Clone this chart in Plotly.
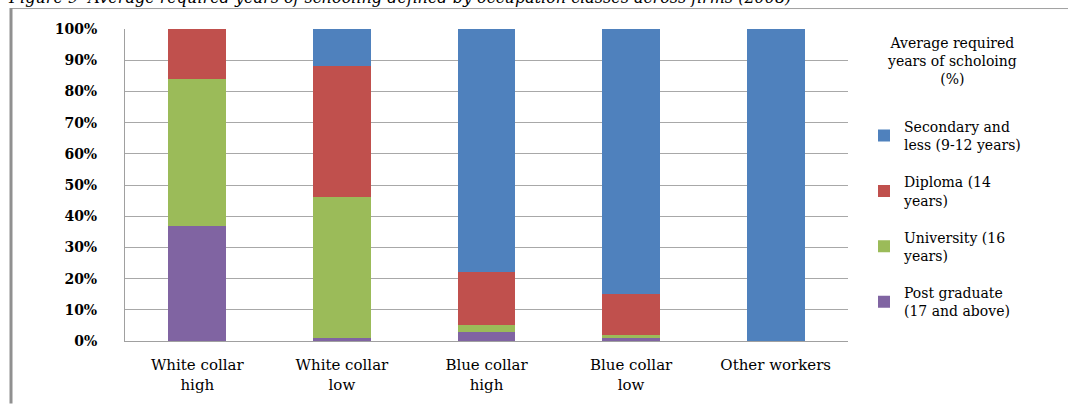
import plotly.graph_objects as go

categories = ["White collar<br>high", "White collar<br>low", "Blue collar<br>high",
              "Blue collar<br>low", "Other workers"]
post_graduate = [37, 1, 3, 1, 0]
university = [47, 45, 2, 1, 0]
diploma = [16, 42, 17, 13, 0]
secondary = [0, 12, 78, 85, 100]

series_names = ["Post graduate<br>(17 and above)", "University (16<br>years)",
                "Diploma (14<br>years)", "Secondary and<br>less (9-12 years)"]
series_values = [post_graduate, university, diploma, secondary]
colors = ["#8064A2", "#9BBB59", "#C0504D", "#4F81BD"]
legend_ranks = [4, 3, 2, 1]

W, H = 1068, 404
L, R, T, B = 125, 848, 29, 341.5

def px(x):
    return (x - L) / (R - L)

def py(y):
    return (B - y) / (B - T)

fig = go.Figure()
for i, (name, vals, col, rk) in enumerate(zip(series_names, series_values, colors, legend_ranks)):
    fig.add_trace(go.Bar(
        x=categories, y=vals, name=name, marker=dict(color=col, line=dict(width=0)),
        legendgroup=f"g{i}", legendrank=rk,
    ))

serif = "DejaVu Serif"
fig.update_layout(
    width=W, height=H,
    barmode="stack", bargap=0.6,
    margin=dict(l=L, r=W - R, t=T, b=H - B, autoexpand=False),
    paper_bgcolor="white", plot_bgcolor="white",
    font=dict(family=serif, color="#000000"),
    showlegend=True,
    legend=dict(
        x=px(864), y=py(111), xanchor="left", yanchor="top",
        traceorder="grouped", tracegroupgap=16,
        font=dict(family=serif, size=14, color="#000000"),
        itemwidth=30, bgcolor="rgba(0,0,0,0)",
    ),
    xaxis=dict(
        showgrid=False, showline=True, linecolor="#A0A0A0", linewidth=1,
        ticks="", tickfont=dict(family=serif, size=15, color="#000000"),
        ticklabelstandoff=10,
    ),
    yaxis=dict(
        range=[0, 100], dtick=10, ticksuffix="%",
        showgrid=True, gridcolor="#A8A8A8", gridwidth=1,
        showline=True, linecolor="#A0A0A0", linewidth=1,
        zeroline=False, ticks="",
        tickfont=dict(family=serif, size=14, color="#000000", weight="bold"),
        ticklabelstandoff=24,
    ),
    annotations=[
        dict(text="Average required<br>years of scholoing<br>(%)", xref="paper", yref="paper",
             x=px(952), y=py(33), xanchor="center", yanchor="top", showarrow=False,
             font=dict(family=serif, size=14, color="#000000"), align="center"),
        dict(text="Figure 9  Average required years of schooling defined by occupation classes across firms (2008)",
             xref="paper", yref="paper", x=px(6), y=py(-3), xanchor="left", yanchor="middle",
             showarrow=False, font=dict(family=serif, size=16, color="#000000", style="italic")),
    ],
    shapes=[
        dict(type="line", xref="paper", yref="paper", x0=px(11), x1=px(1068), y0=py(8.5), y1=py(8.5),
             line=dict(color="#A0A0A0", width=1)),
        dict(type="line", xref="paper", yref="paper", x0=px(11), x1=px(11), y0=py(8), y1=py(404),
             line=dict(color="#909090", width=3)),
    ],
)

fig.write_html("out.html", config={"displayModeBar": False},
               post_script="document.body.style.margin='0';document.body.style.overflow='hidden';")
